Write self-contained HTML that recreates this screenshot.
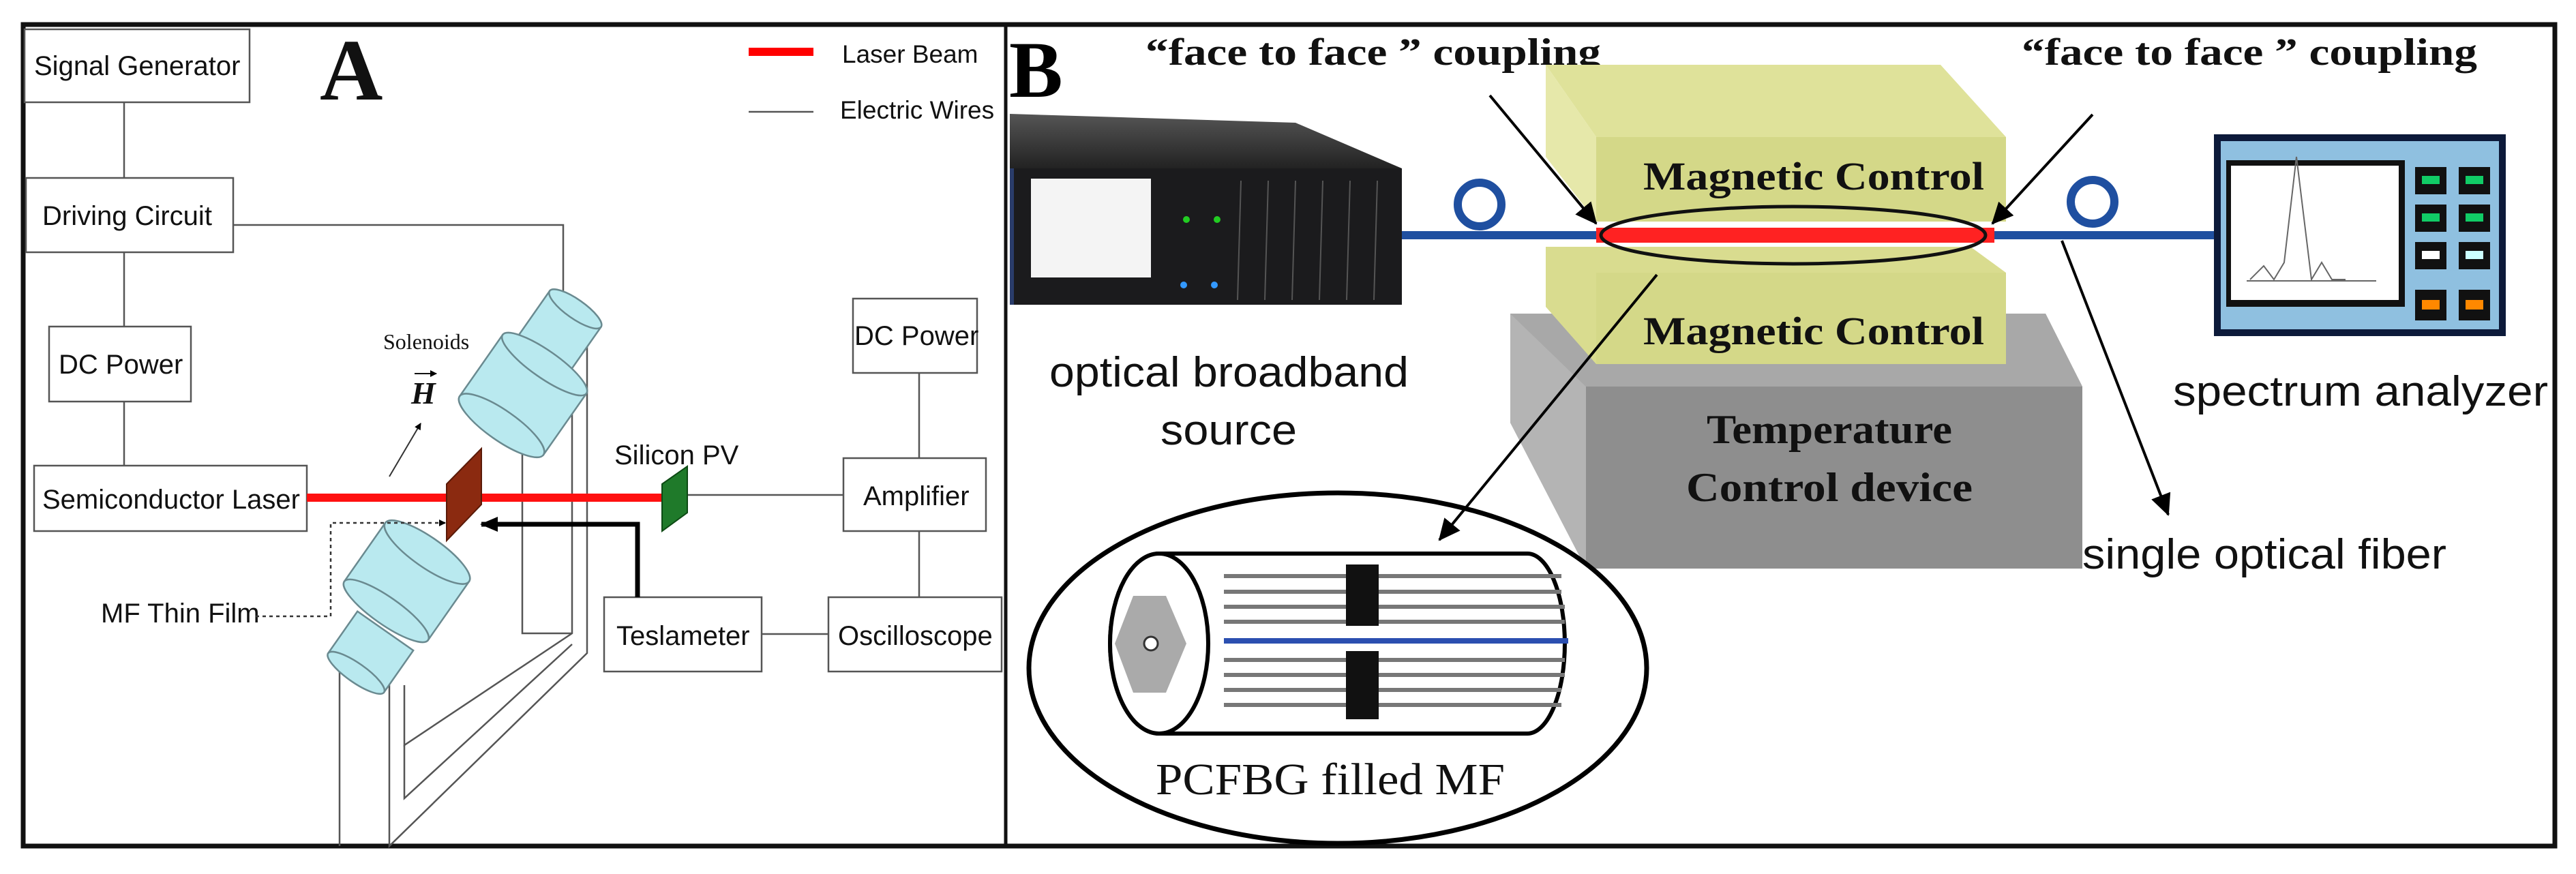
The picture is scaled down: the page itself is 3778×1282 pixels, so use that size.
<!DOCTYPE html>
<html><head><meta charset="utf-8"><style>html,body{margin:0;padding:0;background:#fff}svg{display:block}</style></head>
<body>
<svg width="3778" height="1282" viewBox="0 0 3778 1282" xmlns="http://www.w3.org/2000/svg">
<defs>
<marker id="ah" markerWidth="10" markerHeight="10" refX="9" refY="5" orient="auto" markerUnits="userSpaceOnUse"><path d="M0,0 L10,5 L0,10 z" fill="#000"/></marker>
<marker id="ahb" markerWidth="34" markerHeight="30" refX="30" refY="15" orient="auto" markerUnits="userSpaceOnUse"><path d="M0,0 L32,15 L0,30 z" fill="#000"/></marker>
<marker id="ahc" markerWidth="26" markerHeight="22" refX="24" refY="11" orient="auto" markerUnits="userSpaceOnUse"><path d="M0,0 L26,11 L0,22 z" fill="#000"/></marker>
<linearGradient id="dev" x1="0" y1="0" x2="0" y2="1"><stop offset="0" stop-color="#555"/><stop offset="1" stop-color="#222"/></linearGradient>
</defs>
<rect width="3778" height="1282" fill="#fff"/>
<rect x="34" y="36" width="3713" height="1205" fill="none" stroke="#111" stroke-width="7"/>
<line x1="1475" y1="36" x2="1475" y2="1241" stroke="#111" stroke-width="5"/>

<!-- PANEL A -->
<g font-family="Liberation Sans, sans-serif" font-size="40" fill="#111" stroke="none">
<g fill="#fff" stroke="#555" stroke-width="2.5">
<rect x="36" y="43" width="330" height="107"/>
<rect x="38" y="261" width="304" height="109"/>
<rect x="72" y="479" width="208" height="110"/>
<rect x="50" y="683" width="400" height="96"/>
<rect x="1251" y="438" width="182" height="109"/>
<rect x="1237" y="672" width="209" height="107"/>
<rect x="886" y="876" width="231" height="109"/>
<rect x="1215" y="876" width="254" height="109"/>
</g>
<text x="50" y="110">Signal Generator</text>
<text x="62" y="330">Driving Circuit</text>
<text x="86" y="548">DC Power</text>
<text x="62" y="746">Semiconductor Laser</text>
<text x="1253" y="506">DC Power</text>
<text x="1266" y="741">Amplifier</text>
<text x="904" y="946">Teslameter</text>
<text x="1229" y="946">Oscilloscope</text>
<text x="1235" y="92" font-size="37">Laser Beam</text>
<text x="1232" y="174" font-size="37">Electric Wires</text>
<text x="148" y="913">MF Thin Film</text>
<text x="901" y="681">Silicon PV</text>
<text x="469" y="146" font-family="Liberation Serif, serif" font-weight="bold" font-size="128">A</text>
<text x="562" y="512" font-family="Liberation Serif, serif" font-size="32">Solenoids</text>
<text x="603" y="592" font-family="Liberation Serif, serif" font-style="italic" font-weight="bold" font-size="46">H</text>
</g>
<g stroke="#555" stroke-width="2.5" fill="none">
<line x1="1098" y1="164" x2="1193" y2="164"/>
<line x1="182" y1="150" x2="182" y2="261"/>
<line x1="182" y1="370" x2="182" y2="479"/>
<line x1="182" y1="589" x2="182" y2="683"/>
<polyline points="342,330 826,330 826,450"/>
<line x1="1348" y1="547" x2="1348" y2="672"/>
<line x1="1348" y1="779" x2="1348" y2="876"/>
<line x1="1117" y1="930" x2="1215" y2="930"/>
<line x1="1008" y1="726" x2="1237" y2="726"/>
<polyline points="766,650 766,929 839,929"/>
<polyline points="839,510 839,929 593,1093 593,1005"/>
<polyline points="861,495 861,958 571,1241 571,1005"/>
<polyline points="839,945 593,1171 593,1093"/>
<line x1="498" y1="955" x2="498" y2="1241"/>
</g>
<line x1="1098" y1="76" x2="1193" y2="76" stroke="#f00" stroke-width="12"/>
<line x1="450" y1="730" x2="971" y2="730" stroke="#f11" stroke-width="12"/>
<polygon points="655,710 706,658 706,740 655,793" fill="#8b2a10" stroke="#5a1a08" stroke-width="2"/>
<polygon points="971,710 1008,684 1008,752 971,779" fill="#1f7a2a" stroke="#0d4a14" stroke-width="2"/>
<g fill="#b9e9ef" stroke="#6a8a90" stroke-width="2.5">
<g transform="translate(818,490) rotate(35)">
<rect x="-46" y="-45" width="92" height="90"/>
<ellipse cx="0" cy="-45" rx="46" ry="14"/>
</g>
<g transform="translate(770,575) rotate(35)">
<rect x="-75" y="-50" width="150" height="110"/>
<ellipse cx="0" cy="-50" rx="75" ry="20"/>
<ellipse cx="0" cy="60" rx="75" ry="22"/>
</g>
<g transform="translate(595,855) rotate(35)">
<rect x="-75" y="-55" width="150" height="105"/>
<ellipse cx="0" cy="-55" rx="75" ry="22"/>
<ellipse cx="0" cy="50" rx="75" ry="20"/>
</g>
<g transform="translate(548,950) rotate(35)">
<rect x="-50" y="-30" width="100" height="75"/>
<ellipse cx="0" cy="45" rx="50" ry="14"/>
</g>
</g>
<line x1="571" y1="699" x2="617" y2="621" stroke="#333" stroke-width="2" marker-end="url(#ah)"/>
<line x1="608" y1="548" x2="640" y2="548" stroke="#111" stroke-width="2" marker-end="url(#ah)"/>
<polyline points="935,876 935,769 706,769" fill="none" stroke="#000" stroke-width="7" marker-end="url(#ahc)"/>
<polyline points="375,904 485,904 485,767 653,767" fill="none" stroke="#333" stroke-width="2.5" stroke-dasharray="5,5" marker-end="url(#ah)"/>

<!-- PANEL B -->
<text x="1480" y="142" font-family="Liberation Serif, serif" font-weight="bold" font-size="118">B</text>
<g font-family="Liberation Serif, serif" font-weight="bold" font-size="56" fill="#111">
<text x="1680" y="95" textLength="668" lengthAdjust="spacingAndGlyphs">“face to face ” coupling</text>
<text x="2965" y="95" textLength="668" lengthAdjust="spacingAndGlyphs">“face to face ” coupling</text>
</g>
<polygon points="1481,167 1900,180 2056,247 1481,247" fill="url(#dev)"/>
<rect x="1481" y="247" width="575" height="200" fill="#1b1b1d"/>
<rect x="1481" y="247" width="6" height="200" fill="#2a3c6a"/>
<rect x="1512" y="262" width="176" height="145" fill="#f4f4f4"/>
<g stroke="#555" stroke-width="2"><line x1="1820" y1="265" x2="1815" y2="440"/><line x1="1860" y1="265" x2="1855" y2="440"/><line x1="1900" y1="265" x2="1895" y2="440"/><line x1="1940" y1="265" x2="1935" y2="440"/><line x1="1980" y1="265" x2="1975" y2="440"/><line x1="2020" y1="265" x2="2015" y2="440"/></g>
<circle cx="1740" cy="322" r="5" fill="#2c2"/><circle cx="1785" cy="322" r="5" fill="#2c2"/>
<circle cx="1736" cy="418" r="5" fill="#39f"/><circle cx="1781" cy="418" r="5" fill="#39f"/>
<polygon points="2215,460 3000,460 3054,567 3054,834 2326,834 2215,620" fill="#9a9a9a"/>
<polygon points="2215,460 2326,567 2326,834 2215,620" fill="#b4b4b4"/>
<rect x="2326" y="567" width="728" height="267" fill="#8e8e8e"/>
<polygon points="2215,460 3000,460 3054,567 2326,567" fill="#a8a8a8"/>
<polygon points="2267,362 2890,362 2942,400 2942,534 2341,534 2267,450" fill="#d9dc8f"/>
<rect x="2341" y="400" width="601" height="134" fill="#d4d888"/>
<polygon points="2267,95 2846,95 2942,201 2341,201" fill="#dfe29a"/>
<polygon points="2267,95 2341,201 2341,325 2267,230" fill="#e6e8aa"/>
<rect x="2341" y="201" width="601" height="124" fill="#d4d888"/>
<g font-family="Liberation Serif, serif" font-weight="bold" font-size="58" fill="#111" text-anchor="middle">
<text x="2660" y="278" textLength="500" lengthAdjust="spacingAndGlyphs">Magnetic Control</text>
<text x="2660" y="505" textLength="500" lengthAdjust="spacingAndGlyphs">Magnetic Control</text>
<text x="2683" y="650" font-size="60" textLength="360" lengthAdjust="spacingAndGlyphs">Temperature</text>
<text x="2683" y="735" font-size="60" textLength="420" lengthAdjust="spacingAndGlyphs">Control device</text>
</g>
<line x1="2056" y1="345" x2="3254" y2="345" stroke="#1f4fa0" stroke-width="12"/>
<circle cx="2170" cy="300" r="32" fill="none" stroke="#1f4fa0" stroke-width="12"/>
<circle cx="3069" cy="296" r="32" fill="none" stroke="#1f4fa0" stroke-width="12"/>
<line x1="2341" y1="345" x2="2925" y2="345" stroke="#f22" stroke-width="22"/>
<ellipse cx="2630" cy="345" rx="282" ry="42" fill="none" stroke="#111" stroke-width="5"/>
<rect x="3247" y="197" width="428" height="296" fill="#0d1a3a"/>
<rect x="3257" y="207" width="408" height="276" fill="#8fc0e0"/>
<rect x="3265" y="235" width="262" height="215" fill="#111"/>
<rect x="3272" y="243" width="246" height="197" fill="#fff"/>
<polyline points="3300,410 3320,390 3335,410 3350,385 3368,230 3390,410 3405,385 3420,410 3440,410" fill="none" stroke="#666" stroke-width="2"/>
<line x1="3295" y1="412" x2="3485" y2="412" stroke="#666" stroke-width="2"/>
<g fill="#111">
<rect x="3542" y="245" width="46" height="40"/><rect x="3606" y="245" width="46" height="40"/>
<rect x="3542" y="300" width="46" height="40"/><rect x="3606" y="300" width="46" height="40"/>
<rect x="3542" y="355" width="46" height="40"/><rect x="3606" y="355" width="46" height="40"/>
<rect x="3542" y="425" width="46" height="45"/><rect x="3606" y="425" width="46" height="45"/>
</g>
<g><rect x="3552" y="258" width="26" height="12" fill="#1c6"/><rect x="3616" y="258" width="26" height="12" fill="#1c6"/>
<rect x="3552" y="313" width="26" height="12" fill="#1c6"/><rect x="3616" y="313" width="26" height="12" fill="#1c6"/>
<rect x="3552" y="368" width="26" height="12" fill="#fff"/><rect x="3616" y="368" width="26" height="12" fill="#cff"/>
<rect x="3552" y="440" width="26" height="14" fill="#f80"/><rect x="3616" y="440" width="26" height="14" fill="#f80"/></g>
<g font-family="Liberation Sans, sans-serif" font-size="62" fill="#111">
<text x="1539" y="567" textLength="527" lengthAdjust="spacingAndGlyphs">optical broadband</text>
<text x="1802" y="652" text-anchor="middle" textLength="200" lengthAdjust="spacingAndGlyphs">source</text>
<text x="3187" y="595" textLength="550" lengthAdjust="spacingAndGlyphs">spectrum analyzer</text>
<text x="3054" y="834" textLength="534" lengthAdjust="spacingAndGlyphs">single optical fiber</text>
</g>
<ellipse cx="1962" cy="980" rx="453" ry="257" fill="#fff" stroke="#000" stroke-width="7"/>
<path d="M1700,812 L2240,812 A55,132 0 0 1 2240,1076 L1700,1076 A72,132 0 0 1 1700,812 z" fill="#fff" stroke="#000" stroke-width="6"/>
<ellipse cx="1700" cy="944" rx="72" ry="132" fill="#fff" stroke="#000" stroke-width="6"/>
<g stroke="#777" stroke-width="6">
<line x1="1795" y1="845" x2="2290" y2="845"/><line x1="1795" y1="868" x2="2290" y2="868"/><line x1="1795" y1="890" x2="2295" y2="890"/><line x1="1795" y1="912" x2="2295" y2="912"/>
<line x1="1795" y1="968" x2="2295" y2="968"/><line x1="1795" y1="990" x2="2295" y2="990"/><line x1="1795" y1="1012" x2="2290" y2="1012"/><line x1="1795" y1="1034" x2="2290" y2="1034"/>
</g>
<line x1="1795" y1="940" x2="2300" y2="940" stroke="#2b4fb0" stroke-width="8"/>
<rect x="1974" y="828" width="48" height="90" fill="#111"/>
<rect x="1974" y="955" width="48" height="100" fill="#111"/>
<polygon points="1662,874 1710,874 1740,944 1710,1016 1662,1016 1635,944" fill="#aaa"/>
<circle cx="1688" cy="944" r="10" fill="#fff" stroke="#333" stroke-width="3"/>
<text x="1695" y="1165" font-family="Liberation Serif, serif" font-size="66" fill="#111" textLength="512" lengthAdjust="spacingAndGlyphs">PCFBG filled MF</text>
<g stroke="#000" stroke-width="4">
<line x1="2185" y1="140" x2="2341" y2="328" marker-end="url(#ahb)"/>
<line x1="3069" y1="168" x2="2922" y2="328" marker-end="url(#ahb)"/>
<line x1="2430" y1="403" x2="2111" y2="792" marker-end="url(#ahb)"/>
<line x1="3024" y1="353" x2="3180" y2="755" marker-end="url(#ahb)"/>
</g>
</svg>
</body></html>
